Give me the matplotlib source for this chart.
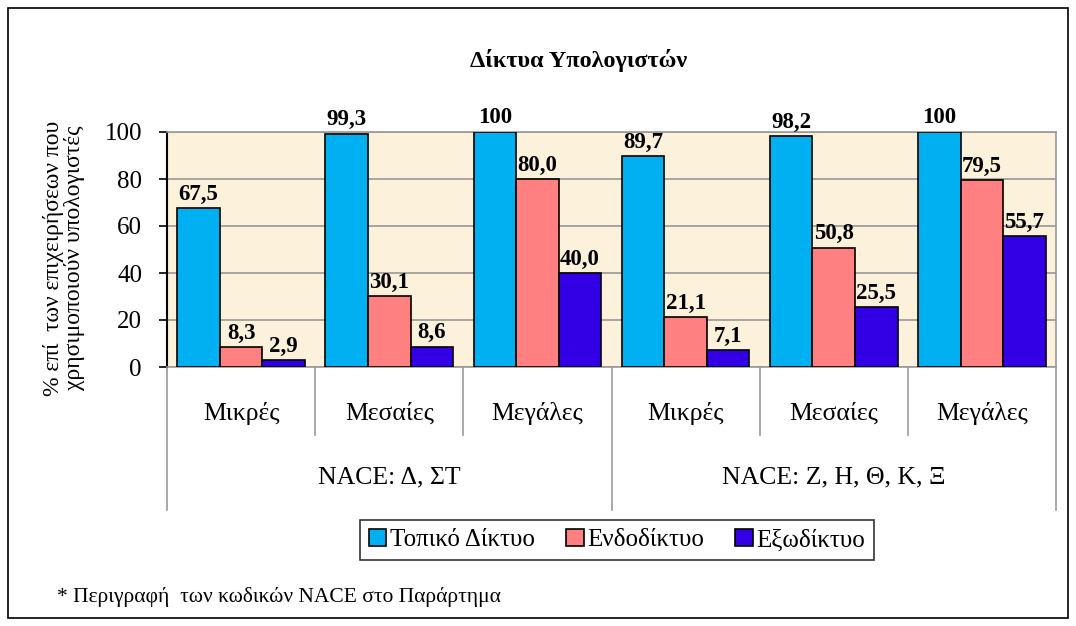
import matplotlib
matplotlib.use('Agg')
import matplotlib.pyplot as plt
import matplotlib.patches as patches
import numpy as np

plt.rcParams['font.family'] = 'serif'
plt.rcParams['font.serif'] = ['Liberation Serif', 'DejaVu Serif']

sizes = ['Μικρές', 'Μεσαίες', 'Μεγάλες', 'Μικρές', 'Μεσαίες', 'Μεγάλες']
groups = ['NACE: Δ, ΣΤ', 'NACE: Ζ, Η, Θ, Κ, Ξ']
series = ['Τοπικό Δίκτυο', 'Ενδοδίκτυο', 'Εξωδίκτυο']
lan = [67.5, 99.3, 100, 89.7, 98.2, 100]
intranet = [8.3, 30.1, 80.0, 21.1, 50.8, 79.5]
extranet = [2.9, 8.6, 40.0, 7.1, 25.5, 55.7]
colors = ['#00B0F0', '#FF8080', '#3300E6']

def fmt(v):
    return '100' if v == 100 else f'{v:.1f}'.replace('.', ',')

W, H = 1076, 626
fig = plt.figure(figsize=(W / 100, H / 100), dpi=100)
fig.patches.append(patches.Rectangle((8/W, 8/H), 1060/W, 610/H,
                   transform=fig.transFigure, fill=False, ec='black', lw=1.2))

ax = fig.add_axes([167/W, 1-367/H, 889/W, 235/H])
ax.set_facecolor('#FCF1DA')

x = np.arange(len(sizes))
w = 0.287
for i, (vals, c, name) in enumerate(zip([lan, intranet, extranet], colors, series)):
    pos = x + (i - 1) * w
    ax.bar(pos, vals, w, color=c, ec='black', lw=1.2, label=name, zorder=3)
    for p, v in zip(pos, vals):
        ax.text(p, v + 1.5, fmt(v), ha='center', va='bottom', fontsize=16.5,
                fontweight='bold', zorder=4)

ax.set_xlim(-0.5, 5.5)
ax.set_ylim(0, 100)
ax.set_yticks(range(0, 101, 20))
ax.tick_params(axis='y', direction='out', length=6, width=1.2, labelsize=18, pad=12)
ax.set_xticks([])
ax.yaxis.grid(True, color='#999999', lw=1.2, zorder=0)
for s in ['top', 'right', 'bottom']:
    ax.spines[s].set_color('#999999')
    ax.spines[s].set_linewidth(1.2)
ax.spines['left'].set_color('black')
ax.spines['left'].set_linewidth(1.5)

# multi-level category axis
for k in range(7):
    xb = k - 0.5
    low = -0.61 if k in (0, 3, 6) else -0.29
    ax.plot([xb, xb], [0, low], transform=ax.get_xaxis_transform(), color='#999999',
            lw=1.2, clip_on=False)
for k, s in enumerate(sizes):
    ax.text(k, -0.196, s, transform=ax.get_xaxis_transform(), ha='center', va='center',
            fontsize=18.5)
for g, name in enumerate(groups):
    ax.text(1 + 3 * g, -0.468, name, transform=ax.get_xaxis_transform(), ha='center',
            va='center', fontsize=18.5)

fig.text(64/W, 1-258/H, '% επί  των επιχειρήσεων που\nχρησιμοποιούν υπολογιστές',
         rotation=90, ha='center', va='center', fontsize=17, linespacing=1.0)
fig.text(579/W, 1-60/H, 'Δίκτυα Υπολογιστών', ha='center', va='center',
         fontsize=17.5, fontweight='bold')

leg = fig.legend(loc='center', bbox_to_anchor=(617/W, 1-540/H), ncol=3,
                 fontsize=18, frameon=True, fancybox=False, edgecolor='black',
                 handlelength=0.7, handleheight=0.7, handletextpad=0.15,
                 columnspacing=1.25, borderpad=0.35, borderaxespad=0)
leg.get_frame().set_linewidth(1.2)

fig.text(57/W, 1-597/H, '* Περιγραφή  των κωδικών NACE στο Παράρτημα',
         ha='left', va='center', fontsize=15.5)

fig.savefig('out.png', dpi=100)
